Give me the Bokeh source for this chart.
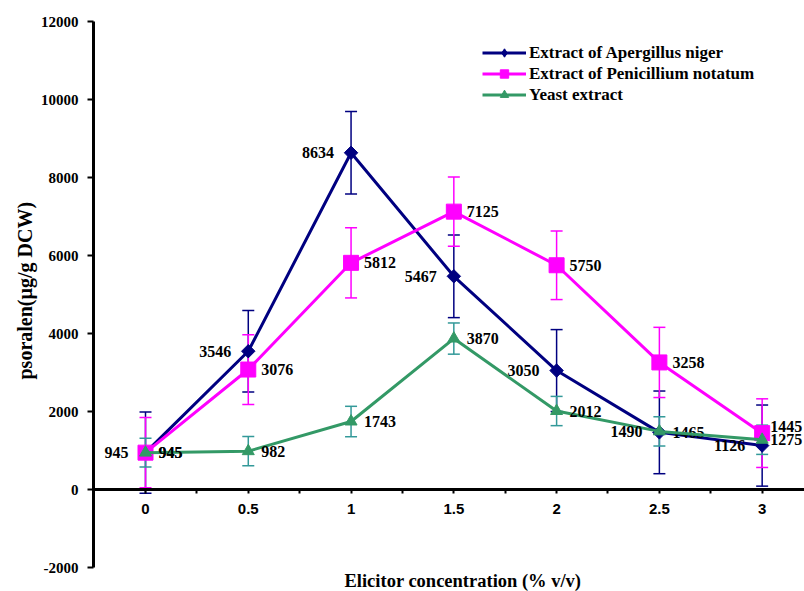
import math
from bokeh.plotting import figure
from bokeh.models import (ColumnDataSource, Whisker, TeeHead, FixedTicker, Legend,
                          LegendItem, Title, Range1d)
from bokeh.core.properties import value
from bokeh.embed import file_html
from bokeh.resources import INLINE

# ---------------- data ----------------
conc = [0, 0.5, 1, 1.5, 2, 2.5, 3]
conc_labels = ["0", "0.5", "1", "1.5", "2", "2.5", "3"]
minor_ticks = [0.25, 0.75, 1.25, 1.75, 2.25, 2.75]
y_ticks = [-2000, 0, 2000, 4000, 6000, 8000, 10000, 12000]
y_tick_labels = ["-2000", "0", "2000", "4000", "6000", "8000", "10000", "12000"]

series_names = ["Extract of Apergillus niger", "Extract of Penicillium notatum", "Yeast extract"]
aspergillus = [945, 3546, 8634, 5467, 3050, 1465, 1126]
aspergillus_err = [1040, 1045, 1060, 1060, 1050, 1060, 1040]
penicillium = [945, 3076, 5812, 7125, 5750, 3258, 1445]
penicillium_err = [900, 895, 900, 890, 880, 900, 880]
yeast = [945, 982, 1743, 3870, 2012, 1490, 1275]
yeast_err = [370, 375, 390, 400, 375, 375, 375]

x_title = "Elicitor concentration (% v/v)"
y_title = "psoralen(µg/g DCW)"

# label placement styling (side of the point, extra x / y nudge in px)
asp_side = ["L", "L", "L", "L", "L", "R", "L"]
asp_nx = [0, 0, 0, 0, 0, 0, 0]
asp_dy = [0, 0, 0, 0, 0, 0, 0]
pen_side = ["R", "R", "R", "R", "R", "R", "R"]
pen_nx = [0, 0, 0, 0, 0, 0, -5]
pen_dy = [0, 0, 0, 0, 0, 0, -7]
yea_side = ["R", "R", "R", "R", "R", "L", "R"]
yea_nx = [0, 0, 0, 0, 0, 0, -5]
yea_dy = [0, 0, 0, 0, 0, 0, 0]

NAVY = "#000080"
PINK = "#FF00FF"
GREEN = "#339966"
TEAL = "#339999"
SERIF = "Liberation Serif"
AXFONT = "Times New Roman"

W, H = 804, 591
p = figure(width=W, height=H, output_backend="svg", toolbar_location=None,
           x_range=Range1d(-0.253, 3.206), y_range=Range1d(-2000, 12000),
           min_border_left=93, min_border_right=0, min_border_top=21, min_border_bottom=23)
p.outline_line_color = None
p.xgrid.visible = False
p.ygrid.visible = False
p.background_fill_color = "white"
p.border_fill_color = "white"

# y axis
ya = p.yaxis[0]
ya.ticker = FixedTicker(ticks=y_ticks)
ya.major_label_overrides = {t: l for t, l in zip(y_ticks, y_tick_labels)}
ya.axis_line_width = 3
ya.major_tick_line_width = 2
ya.major_tick_out = 6
ya.major_tick_in = 0
ya.minor_tick_line_color = None
ya.major_label_standoff = 9
ya.major_label_text_font = AXFONT
ya.major_label_text_font_style = "bold"
ya.major_label_text_font_size = "15px"
ya.major_label_text_color = "black"

# x axis crossing at y = 0
xa = p.xaxis[0]
xa.fixed_location = 0
xa.ticker = FixedTicker(ticks=conc, minor_ticks=minor_ticks)
xa.major_label_overrides = {c: l for c, l in zip(conc, conc_labels)}
xa.axis_line_width = 3
xa.major_tick_line_width = 2
xa.minor_tick_line_width = 2
xa.major_tick_out = 4
xa.major_tick_in = 0
xa.minor_tick_out = 4
xa.minor_tick_in = 0
xa.major_label_standoff = 10
xa.major_label_text_font = "Liberation Sans"
xa.major_label_text_font_style = "bold"
xa.major_label_text_font_size = "15px"
xa.major_label_text_color = "black"

series = [
    (aspergillus, aspergillus_err, asp_side, asp_nx, asp_dy, NAVY, NAVY, "square", 9.5, math.pi / 4, "diamond", 16),
    (penicillium, penicillium_err, pen_side, pen_nx, pen_dy, PINK, PINK, "square", 15, 0, "square", 12),
    (yeast, yeast_err, yea_side, yea_nx, yea_dy, GREEN, TEAL, "triangle", 12, 0, "triangle", 11),
]

items = []
for (vals, errs, side, nx, dy, col, ecol, mk, sz, ang, lmk, lsz), name in zip(series, series_names):
    src = ColumnDataSource(dict(
        x=conc, y=vals,
        upper=[v + e for v, e in zip(vals, errs)],
        lower=[v - e for v, e in zip(vals, errs)],
        label=[str(v) for v in vals],
        dx=[(-17 if s == "L" else 13) + n for s, n in zip(side, nx)],
        dy=dy,
        align=["right" if s == "L" else "left" for s in side],
    ))
    w = Whisker(source=src, base="x", upper="upper", lower="lower",
                line_color=ecol, line_width=1.5,
                upper_head=TeeHead(size=12, line_color=ecol, line_width=1.5),
                lower_head=TeeHead(size=12, line_color=ecol, line_width=1.5))
    p.add_layout(w)
    ln = p.line("x", "y", source=src, line_color=col, line_width=3)
    p.scatter("x", "y", source=src, marker=mk, size=sz, angle=ang,
              fill_color=col, line_color=col)
    # legend-only marker (not drawn in the plot area)
    lg = p.scatter(x=[float("nan")], y=[float("nan")], marker=lmk, size=lsz,
                   fill_color=col, line_color=col)
    p.text("x", "y", text="label", source=src, x_offset="dx", y_offset="dy",
           text_align="align", text_baseline="middle",
           text_font=value(SERIF), text_font_style="bold", text_font_size="16px",
           text_color="black")
    items.append(LegendItem(label=name, renderers=[ln, lg]))

legend = Legend(items=items, location=(389, 462), padding=0, margin=0, spacing=0,
                border_line_color=None, background_fill_alpha=0,
                glyph_width=44, glyph_height=21, label_height=21, label_standoff=3,
                label_text_font=SERIF, label_text_font_style="bold",
                label_text_font_size="17px", label_text_color="black")
p.add_layout(legend)

# axis titles as side titles
p.add_layout(Title(text=x_title, align="left", offset=251, standoff=2,
                   vertical_align="bottom", text_font=SERIF, text_font_style="bold",
                   text_font_size="18.5px", text_color="black"), "below")
p.add_layout(Title(text=y_title, align="left", offset=188, standoff=2,
                   vertical_align="middle", text_font=SERIF, text_font_style="bold",
                   text_font_size="20px", text_color="black"), "left")

open("out.html", "w").write(file_html(p, INLINE))
